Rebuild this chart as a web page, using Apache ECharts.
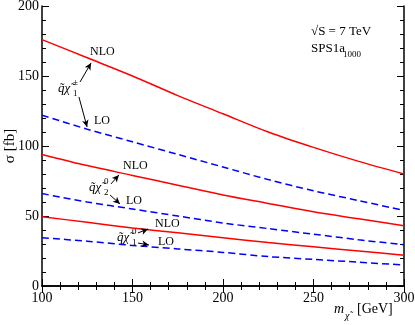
<!DOCTYPE html>
<html>
<head>
<meta charset="utf-8">
<script src="https://cdn.jsdelivr.net/npm/echarts@6/dist/echarts.min.js"></script>
<style>
  html, body { margin: 0; padding: 0; background: #fff; }
  #chart { width: 415px; height: 325px; }
</style>
</head>
<body>
<div id="chart"></div>
<script>
// masses (GeV)
const masses = [100, 125, 150, 175, 200, 225, 250, 275, 300]
// cross sections (fb)
const charginoNLO = [176, 163, 150, 136, 123, 110, 99, 89, 80]
const charginoLO = [122, 112, 103, 94, 85, 76, 68, 61, 54]
const neutralino2NLO = [94, 86, 79, 72, 65, 59, 53, 48, 43]
const neutralino2LO = [66, 60, 55, 50, 45, 41, 37, 33, 29.5]
const neutralino1NLO = [49.5, 45.5, 41.5, 38, 34.5, 31, 28, 25, 22]
const neutralino1LO = [34.5, 32, 29, 26.5, 24, 21, 19, 17, 15]

// annotation arrows in data coords [from, to]
const arrows = [
  [[121, 145.7], [127.1, 159.3]],
  [[120.4, 135], [124.9, 113.6]],
  [[138.1, 72.9], [142.5, 79.3]],
  [[137.6, 65], [143.1, 58.6]],
  [[153, 37.9], [158.6, 40.7]],
  [[153, 30.7], [159.1, 29.3]]
]

const serif = 'Liberation Serif'
const pair = (ys) => masses.map((m, i) => [m, ys[i]])

const lineSeries = (name, ys, dashed) => ({
  type: 'line',
  name,
  data: pair(ys),
  smooth: 0.3,
  showSymbol: false,
  silent: true,
  lineStyle: dashed
    ? { color: '#0000ff', width: 1.5, type: [7, 4] }
    : { color: '#ff0000', width: 1.5 }
})

const axisCommon = {
  type: 'value',
  axisLine: { show: true, lineStyle: { color: '#000', width: 1.5 } },
  axisTick: { show: true, inside: true, length: 7, lineStyle: { color: '#000', width: 1 } },
  minorTick: { show: true, splitNumber: 5, length: 4, lineStyle: { color: '#000', width: 1 } },
  splitLine: { show: false },
  minorSplitLine: { show: false }
}

const textEl = (text, x, y, size, extra) => ({
  type: 'text',
  left: x,
  top: y,
  style: Object.assign({ text, fontFamily: serif, fontSize: size, fill: '#000' }, extra || {})
})

// process label: q~ chi~ with stacked sup/sub
const procLabel = (x, y, sup, sub) => [
  textEl('q\u0303\u03c7\u0303', x, y, 13, { fontStyle: 'italic' }),
  textEl(sup, x + 15, y - 4, 9),
  textEl(sub, x + 15, y + 7, 9)
]

const chart = echarts.init(document.getElementById('chart'))
chart.setOption({
  animation: false,
  grid: { left: 42, right: 11, top: 6, bottom: 39, outerBoundsMode: 'none' },
  xAxis: [
    Object.assign({}, axisCommon, {
      min: 100, max: 300, interval: 50,
      axisLabel: { color: '#000', fontFamily: serif, fontSize: 14, margin: 5 }
    }),
    Object.assign({}, axisCommon, {
      position: 'top', min: 100, max: 300, interval: 50,
      axisLabel: { show: false }
    })
  ],
  yAxis: [
    Object.assign({}, axisCommon, {
      min: 0, max: 200, interval: 50,
      axisLabel: { color: '#000', fontFamily: serif, fontSize: 14, margin: 3 }
    }),
    Object.assign({}, axisCommon, {
      position: 'right', min: 0, max: 200, interval: 50,
      axisLabel: { show: false }
    })
  ],
  series: [
    Object.assign(lineSeries('chargino NLO', charginoNLO, false), {
      markLine: {
        silent: true,
        symbol: ['none', 'arrow'],
        symbolSize: [5, 7],
        label: { show: false },
        lineStyle: { color: '#000', width: 1, type: 'solid' },
        data: arrows.map(a => [{ coord: a[0] }, { coord: a[1] }])
      }
    }),
    lineSeries('chargino LO', charginoLO, true),
    lineSeries('neutralino2 NLO', neutralino2NLO, false),
    lineSeries('neutralino2 LO', neutralino2LO, true),
    lineSeries('neutralino1 NLO', neutralino1NLO, false),
    lineSeries('neutralino1 LO', neutralino1LO, true)
  ],
  graphic: [
    {
      type: 'text', x: 10, y: 146, rotation: Math.PI / 2,
      style: { text: 'σ [fb]', fontFamily: serif, fontSize: 15, fill: '#000',
        align: 'center', verticalAlign: 'middle' }
    },
    textEl('NLO', 90, 46, 12),
    textEl('LO', 94, 115, 12),
    ...procLabel(58, 82, '±', '1'),
    textEl('NLO', 123, 160, 12),
    textEl('LO', 126, 195, 12),
    ...procLabel(89, 181, '0', '2'),
    textEl('NLO', 155, 218, 12),
    textEl('LO', 158, 236, 12),
    ...procLabel(117, 231, '0', '1'),
    textEl('√S = 7 TeV', 311, 25, 13),
    textEl('SPS1a', 311, 42, 13),
    textEl('1000', 343, 50, 9),
    textEl('m', 334, 302, 14, { fontStyle: 'italic' }),
    textEl('\u03c7\u0303', 345, 311, 10, { fontStyle: 'italic' }),
    textEl('[GeV]', 357, 302, 14)
  ]
})
</script>
</body>
</html>
